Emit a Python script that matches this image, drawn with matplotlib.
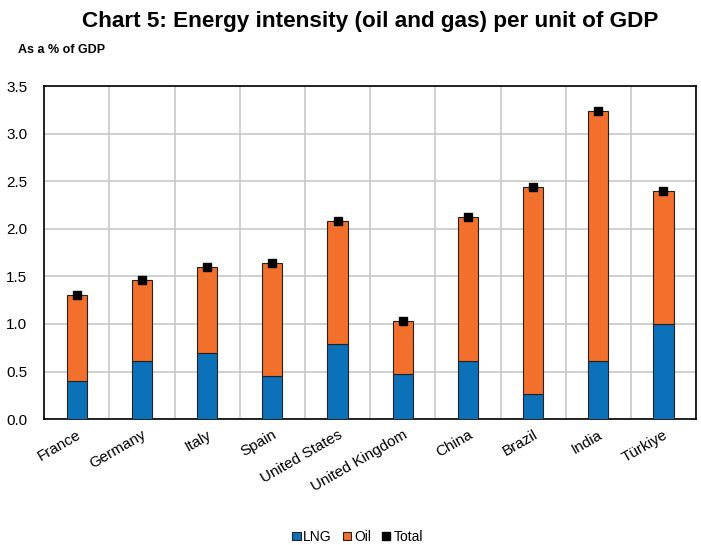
import matplotlib.pyplot as plt
import numpy as np

plt.rcParams['font.family'] = ['Liberation Sans', 'DejaVu Sans']

paises = ["France", "Germany", "Italy", "Spain", "United States",
          "United Kingdom", "China", "Brazil", "India", "Türkiye"]
lng = [0.40, 0.61, 0.70, 0.45, 0.79, 0.47, 0.61, 0.26, 0.61, 1.00]
total = [1.30, 1.46, 1.60, 1.64, 2.08, 1.03, 2.12, 2.44, 3.24, 2.40]
oil = [t - g for t, g in zip(total, lng)]

azul = '#0B72B9'
naranja = '#F2702B'

fig = plt.figure(figsize=(7.01, 5.45), dpi=100)
ax = fig.add_axes([0.063, 0.231, 0.930, 0.611])

x = np.arange(len(paises))
ancho = 0.31
b1 = ax.bar(x, lng, ancho, color=azul, edgecolor='#222222', linewidth=0.8, label='LNG', zorder=3)
b2 = ax.bar(x, oil, ancho, bottom=lng, color=naranja, edgecolor='#222222', linewidth=0.8,
            label='Oil', zorder=3)
tot, = ax.plot(x, total, linestyle='none', marker='s', markersize=6, color='black',
               label='Total', zorder=4)

ax.set_xlim(-0.5, len(paises) - 0.5)
ax.set_ylim(0, 3.5)
ax.set_yticks(np.arange(0, 3.51, 0.5))
ax.set_yticklabels([f"{v:.1f}" for v in np.arange(0, 3.51, 0.5)], fontsize=11)

# grid vertical entre categorías
ax.set_xticks(x)
ax.set_xticks(np.arange(-0.5, len(paises), 1), minor=True)
ax.set_xticklabels(paises, rotation=30, ha='right', rotation_mode='anchor', fontsize=11)
ax.tick_params(axis='x', which='both', length=0, pad=6)
ax.tick_params(axis='y', length=0, pad=12)
ax.grid(axis='y', color='#c8c8c8', linewidth=1.2, zorder=0)
ax.grid(axis='x', which='minor', color='#c8c8c8', linewidth=1.2, zorder=0)
ax.set_axisbelow(True)
for lado in ax.spines.values():
    lado.set_color('black')
    lado.set_linewidth(1.2)

fig.text(0.528, 0.960, "Chart 5: Energy intensity (oil and gas) per unit of GDP",
         ha='center', va='center', fontsize=16.2, fontweight='bold')
fig.text(0.025, 0.908, "As a % of GDP", ha='left', va='center', fontsize=9,
         fontweight='bold')

fig.legend([b1, b2, tot], ['LNG', 'Oil', 'Total'], loc='center',
           bbox_to_anchor=(0.51, 0.015), ncol=3, frameon=False,
           fontsize=10, handlelength=0.6, handleheight=0.6, handletextpad=0.2,
           columnspacing=0.8, markerscale=0.9)

fig.savefig('out.png', dpi=100)
